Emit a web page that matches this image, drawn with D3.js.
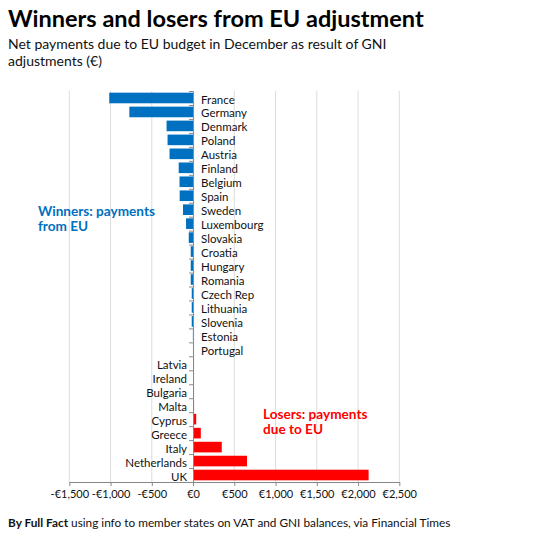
<!doctype html>
<html>
<head>
<meta charset="utf-8">
<title>Winners and losers from EU adjustment</title>
<style type="text/css">
body { margin: 0; background: #fff; }
svg { display: block; font-family: Lato, "Open Sans", sans-serif; }
</style>
<script src="https://cdnjs.cloudflare.com/ajax/libs/d3/7.8.5/d3.min.js"></script>
</head>
<body>
<script type="text/javascript">
// Data (euro, millions)
var countries = ["France", "Germany", "Denmark", "Poland", "Austria", "Finland", "Belgium", "Spain",
	"Sweden", "Luxembourg", "Slovakia", "Croatia", "Hungary", "Romania", "Czech Rep", "Lithuania",
	"Slovenia", "Estonia", "Portugal", "Latvia", "Ireland", "Bulgaria", "Malta", "Cyprus", "Greece",
	"Italy", "Netherlands", "UK"];
var payments = [-1016, -772, -321, -309, -285, -174, -164, -162, -122, -85, -52, -28, -28, -28,
	-16, -16, -16, -2, -1, 10, 10, 10, 12, 38, 94, 348, 654, 2128];
var xTicks = [-1500, -1000, -500, 0, 500, 1000, 1500, 2000, 2500];

var width = 550, height = 549;

var svg = d3.select("body").append("svg")
	.attr("width", width)
	.attr("height", height);

var x = d3.scaleLinear().domain([-1500, 2500]).range([69.3, 399.3]);
var y = d3.scaleBand().domain(countries).range([91, 482]).paddingInner(0.24).paddingOuter(0.12);
var rowIdx = d3.scaleLinear().domain([0, countries.length]).range([91, 482]);

// titles
svg.append("text")
	.attr("x", 8).attr("y", 27)
	.style("font-size", "23.5px").style("font-weight", "bold").style("fill", "#000")
	.text("Winners and losers from EU adjustment");
svg.append("text")
	.attr("x", 8).attr("y", 49)
	.style("font-size", "14px").style("fill", "#111")
	.text("Net payments due to EU budget in December as result of GNI");
svg.append("text")
	.attr("x", 8).attr("y", 66)
	.style("font-size", "14px").style("fill", "#111")
	.text("adjustments (€)");

// gridlines
svg.append("g").selectAll("line")
	.data(xTicks.filter(function(d) { return d !== 0; }))
	.enter().append("line")
	.attr("x1", function(d) { return x(d); })
	.attr("x2", function(d) { return x(d); })
	.attr("y1", 91).attr("y2", 482)
	.style("stroke", "#dcdcdc").style("stroke-width", 1);

// bars
svg.append("g").selectAll("rect")
	.data(countries)
	.enter().append("rect")
	.attr("x", function(d, i) { return x(Math.min(0, payments[i])); })
	.attr("width", function(d, i) { return Math.abs(x(payments[i]) - x(0)); })
	.attr("y", function(d) { return y(d); })
	.attr("height", y.bandwidth())
	.style("fill", function(d, i) { return payments[i] < 0 ? "#0070c0" : "#ff0000"; });

// y axis: ticks between rows
var yAxis = svg.append("g")
	.attr("transform", "translate(" + x(0) + ",0)")
	.call(d3.axisLeft(rowIdx).tickValues(d3.range(countries.length + 1)).tickSize(4).tickFormat(""));
yAxis.select(".domain").style("stroke", "#888");
yAxis.selectAll(".tick line").style("stroke", "#888");

// x axis
var fmt = d3.format(",");
var xAxis = svg.append("g")
	.attr("transform", "translate(0,482)")
	.call(d3.axisBottom(x).tickValues(xTicks).tickSize(4).tickSizeOuter(0)
		.tickFormat(function(d) { return d < 0 ? "-€" + fmt(-d) : "€" + fmt(d); }));
xAxis.select(".domain").style("stroke", "#888");
xAxis.selectAll(".tick line").style("stroke", "#888");
xAxis.selectAll(".tick text")
	.attr("dy", "0.75em").attr("y", 8)
	.style("font-family", "Lato, sans-serif").style("font-size", "11px").style("fill", "#111");

// country labels
svg.append("g").selectAll("text")
	.data(countries)
	.enter().append("text")
	.attr("x", function(d, i) { return payments[i] > 0 ? x(0) - 6 : x(0) + 8; })
	.attr("y", function(d) { return y(d) + y.bandwidth() / 2 + 1.5; })
	.attr("dy", "0.35em")
	.attr("text-anchor", function(d, i) { return payments[i] > 0 ? "end" : "start"; })
	.style("font-size", "11.5px").style("fill", "#111")
	.text(function(d) { return d; });

// annotations
var winners = svg.append("text").attr("x", 38).attr("y", 216)
	.style("font-size", "13.6px").style("font-weight", "bold").style("fill", "#0070c0");
winners.append("tspan").attr("x", 38).text("Winners: payments");
winners.append("tspan").attr("x", 38).attr("dy", 15).text("from EU");

var losers = svg.append("text").attr("x", 263).attr("y", 419)
	.style("font-size", "13.6px").style("font-weight", "bold").style("fill", "#ff0000");
losers.append("tspan").attr("x", 263).text("Losers: payments");
losers.append("tspan").attr("x", 263).attr("dy", 15).text("due to EU");

// source
var src = svg.append("text").attr("x", 8).attr("y", 527)
	.style("font-size", "11.8px").style("fill", "#111");
src.append("tspan").style("font-weight", "bold").text("By Full Fact");
src.append("tspan").text(" using info to member states on VAT and GNI balances, via Financial Times");
</script>
</body>
</html>
